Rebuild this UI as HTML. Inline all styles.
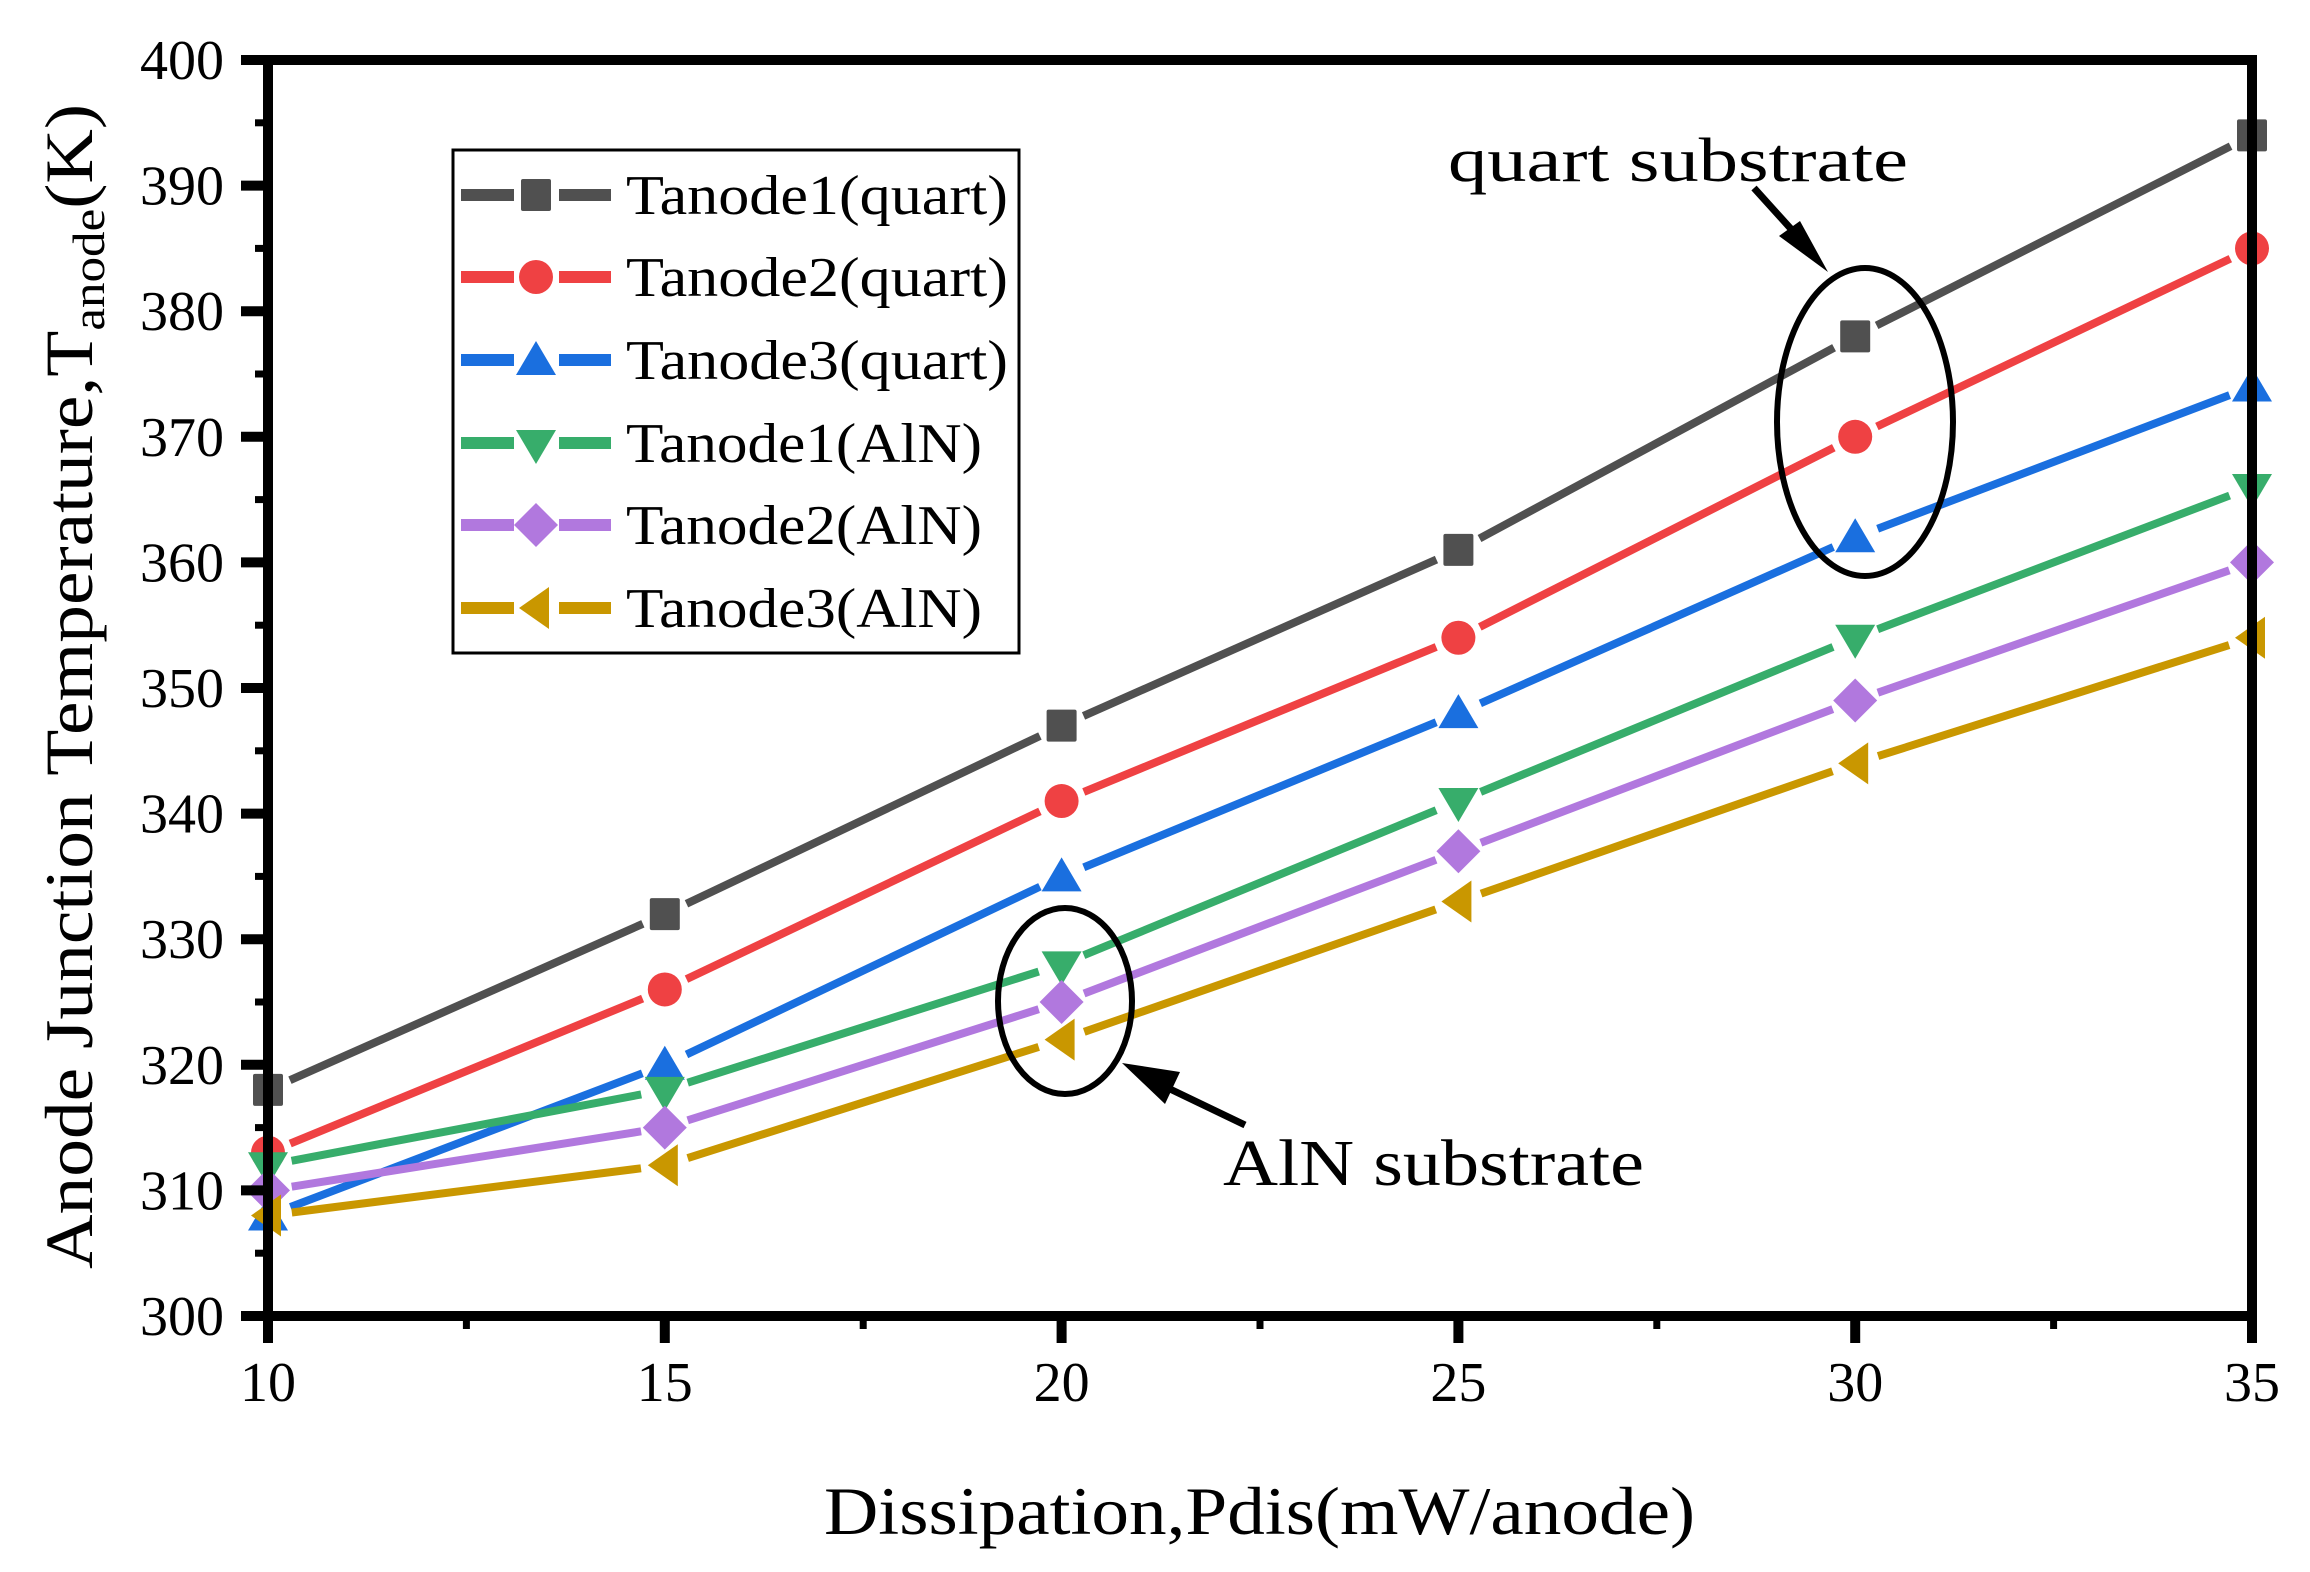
<!DOCTYPE html>
<html><head><meta charset="utf-8"><style>
html,body{margin:0;padding:0;background:#fff}
svg{display:block}
text{font-family:"Liberation Serif",serif;fill:#000}
</style></head><body>
<svg id="chart" width="2310" height="1572" viewBox="0 0 2310 1572" xmlns="http://www.w3.org/2000/svg">
<rect width="2310" height="1572" fill="#fff"/>
<g id="series-layer"></g>
<g id="axes-layer"></g>
<g id="legend">
<rect x="453" y="150" width="566" height="503" fill="#fff" stroke="#000" stroke-width="3"/>
</g>
<text x="1448" y="181" font-size="62" textLength="460" lengthAdjust="spacingAndGlyphs">quart substrate</text>
<ellipse cx="1865" cy="422" rx="88" ry="154" fill="none" stroke="#000" stroke-width="6"/>
<line x1="1754" y1="188" x2="1810" y2="250" stroke="#000" stroke-width="7"/>
<polygon points="1828,272 1779,236 1800,221" fill="#000"/>
<text x="1223" y="1185" font-size="66" textLength="421" lengthAdjust="spacingAndGlyphs">AlN substrate</text>
<ellipse cx="1065" cy="1001" rx="67" ry="93" fill="none" stroke="#000" stroke-width="6"/>
<line x1="1245" y1="1125" x2="1145" y2="1077" stroke="#000" stroke-width="7"/>
<polygon points="1122,1063 1180,1072 1165,1104" fill="#000"/>
<text x="824" y="1534" font-size="68" textLength="871" lengthAdjust="spacingAndGlyphs">Dissipation,Pdis(mW/anode)</text>
<text transform="translate(92,1269) rotate(-90)" font-size="68" textLength="1165" lengthAdjust="spacingAndGlyphs">Anode Junction Temperature,T<tspan font-size="46" dy="12">anode</tspan><tspan dy="-12">(K)</tspan></text>
</svg>
<script>
const xValues = [10, 15, 20, 25, 30, 35];
const seriesNames = ["Tanode1(quart)", "Tanode2(quart)", "Tanode3(quart)", "Tanode1(AlN)", "Tanode2(AlN)", "Tanode3(AlN)"];
const t1Quart = [318, 332, 347, 361, 378, 394];
const t2Quart = [313, 326, 341, 354, 370, 385];
const t3Quart = [308, 320, 335, 348, 362, 374];
const t1AlN = [312, 318, 328, 341, 354, 366];
const t2AlN = [310, 315, 325, 337, 349, 360];
const t3AlN = [308, 312, 322, 333, 344, 354];
const xTicks = [10, 15, 20, 25, 30, 35];
const yTicks = [300, 310, 320, 330, 340, 350, 360, 370, 380, 390, 400];

const NS = "http://www.w3.org/2000/svg";
const X0 = 268, X1 = 2252, Y0 = 1316, Y1 = 60;
function xs(v){ return X0 + (v - 10) / 25 * (X1 - X0); }
function ys(v){ return Y0 - (v - 300) / 100 * (Y0 - Y1); }
function mk(tag, attrs, parent){ const e = document.createElementNS(NS, tag); for (const k in attrs) e.setAttribute(k, attrs[k]); parent.appendChild(e); return e; }

const colors = ["#505050", "#EF4143", "#1A6FDF", "#37AD6B", "#B178DE", "#C99700"];
const shapes = ["square", "circle", "up", "down", "diamond", "left"];
const allSeries = [t1Quart, t2Quart, t3Quart, t1AlN, t2AlN, t3AlN];

function marker(shape, cx, cy, color, parent){
  const s = 17;
  let e;
  if (shape === "square") e = mk("rect", {x: cx - 15, y: cy - 16, width: 30, height: 32, rx: 2, fill: color}, parent);
  else if (shape === "circle") e = mk("ellipse", {cx: cx, cy: cy, rx: 17, ry: 17, fill: color}, parent);
  else if (shape === "up") e = mk("polygon", {points: `${cx},${cy-19} ${cx+20},${cy+15} ${cx-20},${cy+15}`, fill: color}, parent);
  else if (shape === "down") e = mk("polygon", {points: `${cx-20},${cy-13} ${cx+20},${cy-13} ${cx},${cy+21}`, fill: color}, parent);
  else if (shape === "diamond") e = mk("polygon", {points: `${cx},${cy-22} ${cx+22},${cy} ${cx},${cy+22} ${cx-22},${cy}`, fill: color}, parent);
  else e = mk("polygon", {points: `${cx-17},${cy} ${cx+13},${cy-21} ${cx+13},${cy+21}`, fill: color}, parent);
  return e;
}

const sl = document.getElementById("series-layer");
allSeries.forEach((vals, si) => {
  const g = mk("g", {}, sl);
  
  
  for (let i = 0; i < vals.length - 1; i++) {
    const ax = xs(xValues[i]), ay = ys(vals[i]), bx = xs(xValues[i+1]), by = ys(vals[i+1]);
    const dx = bx - ax, dy = by - ay, L = Math.hypot(dx, dy), gap = 24;
    const seg = mk("line", {x1: ax + dx/L*gap, y1: ay + dy/L*gap, x2: bx - dx/L*gap, y2: by - dy/L*gap, stroke: colors[si], "stroke-width": 8}, g);
    
    
  }
  vals.forEach((v, i) => {
    const m = marker(shapes[si], xs(xValues[i]), ys(v), colors[si], g);
    
    
  });
});

const ax = document.getElementById("axes-layer");
const frame = mk("rect", {x: X0, y: Y1, width: X1 - X0, height: Y0 - Y1, fill: "none", stroke: "#000", "stroke-width": 10}, ax);


yTicks.forEach((t, i) => {
  const y = ys(t);
  const tk = mk("line", {x1: X0 - 27, y1: y, x2: X0, y2: y, stroke: "#000", "stroke-width": 10}, ax);
  
  
  const lb = mk("text", {x: 224, y: y + 19, "font-size": 56, "text-anchor": "end"}, ax);
  lb.textContent = t;
  
  
  if (i < yTicks.length - 1) {
    const m = mk("line", {x1: X0 - 13, y1: ys(t + 5), x2: X0, y2: ys(t + 5), stroke: "#000", "stroke-width": 7}, ax);
    
    
  }
});
xTicks.forEach((t, i) => {
  const x = xs(t);
  const tk = mk("line", {x1: x, y1: Y0, x2: x, y2: Y0 + 27, stroke: "#000", "stroke-width": 10}, ax);
  
  
  const lb = mk("text", {x: x, y: 1401, "font-size": 56, "text-anchor": "middle"}, ax);
  lb.textContent = t;
  
  
  if (i < xTicks.length - 1) {
    const m = mk("line", {x1: xs(t + 2.5), y1: Y0, x2: xs(t + 2.5), y2: Y0 + 13, stroke: "#000", "stroke-width": 7}, ax);
    
    
  }
});

const lg = document.getElementById("legend");
const rowY = [195, 277, 360, 443, 525, 608];
seriesNames.forEach((name, si) => {
  const y = rowY[si];
  const e = mk("g", {}, lg);
  
  
  mk("line", {x1: 461, y1: y, x2: 514, y2: y, stroke: colors[si], "stroke-width": 12}, e);
  mk("line", {x1: 559, y1: y, x2: 611, y2: y, stroke: colors[si], "stroke-width": 12}, e);
  marker(shapes[si], 536, y, colors[si], e);
  const t = mk("text", {x: 626, y: y + 19, "font-size": 56, textLength: name.includes("quart") ? 382 : 356, lengthAdjust: "spacingAndGlyphs"}, e);
  t.textContent = name;
});
</script>
</body></html>
